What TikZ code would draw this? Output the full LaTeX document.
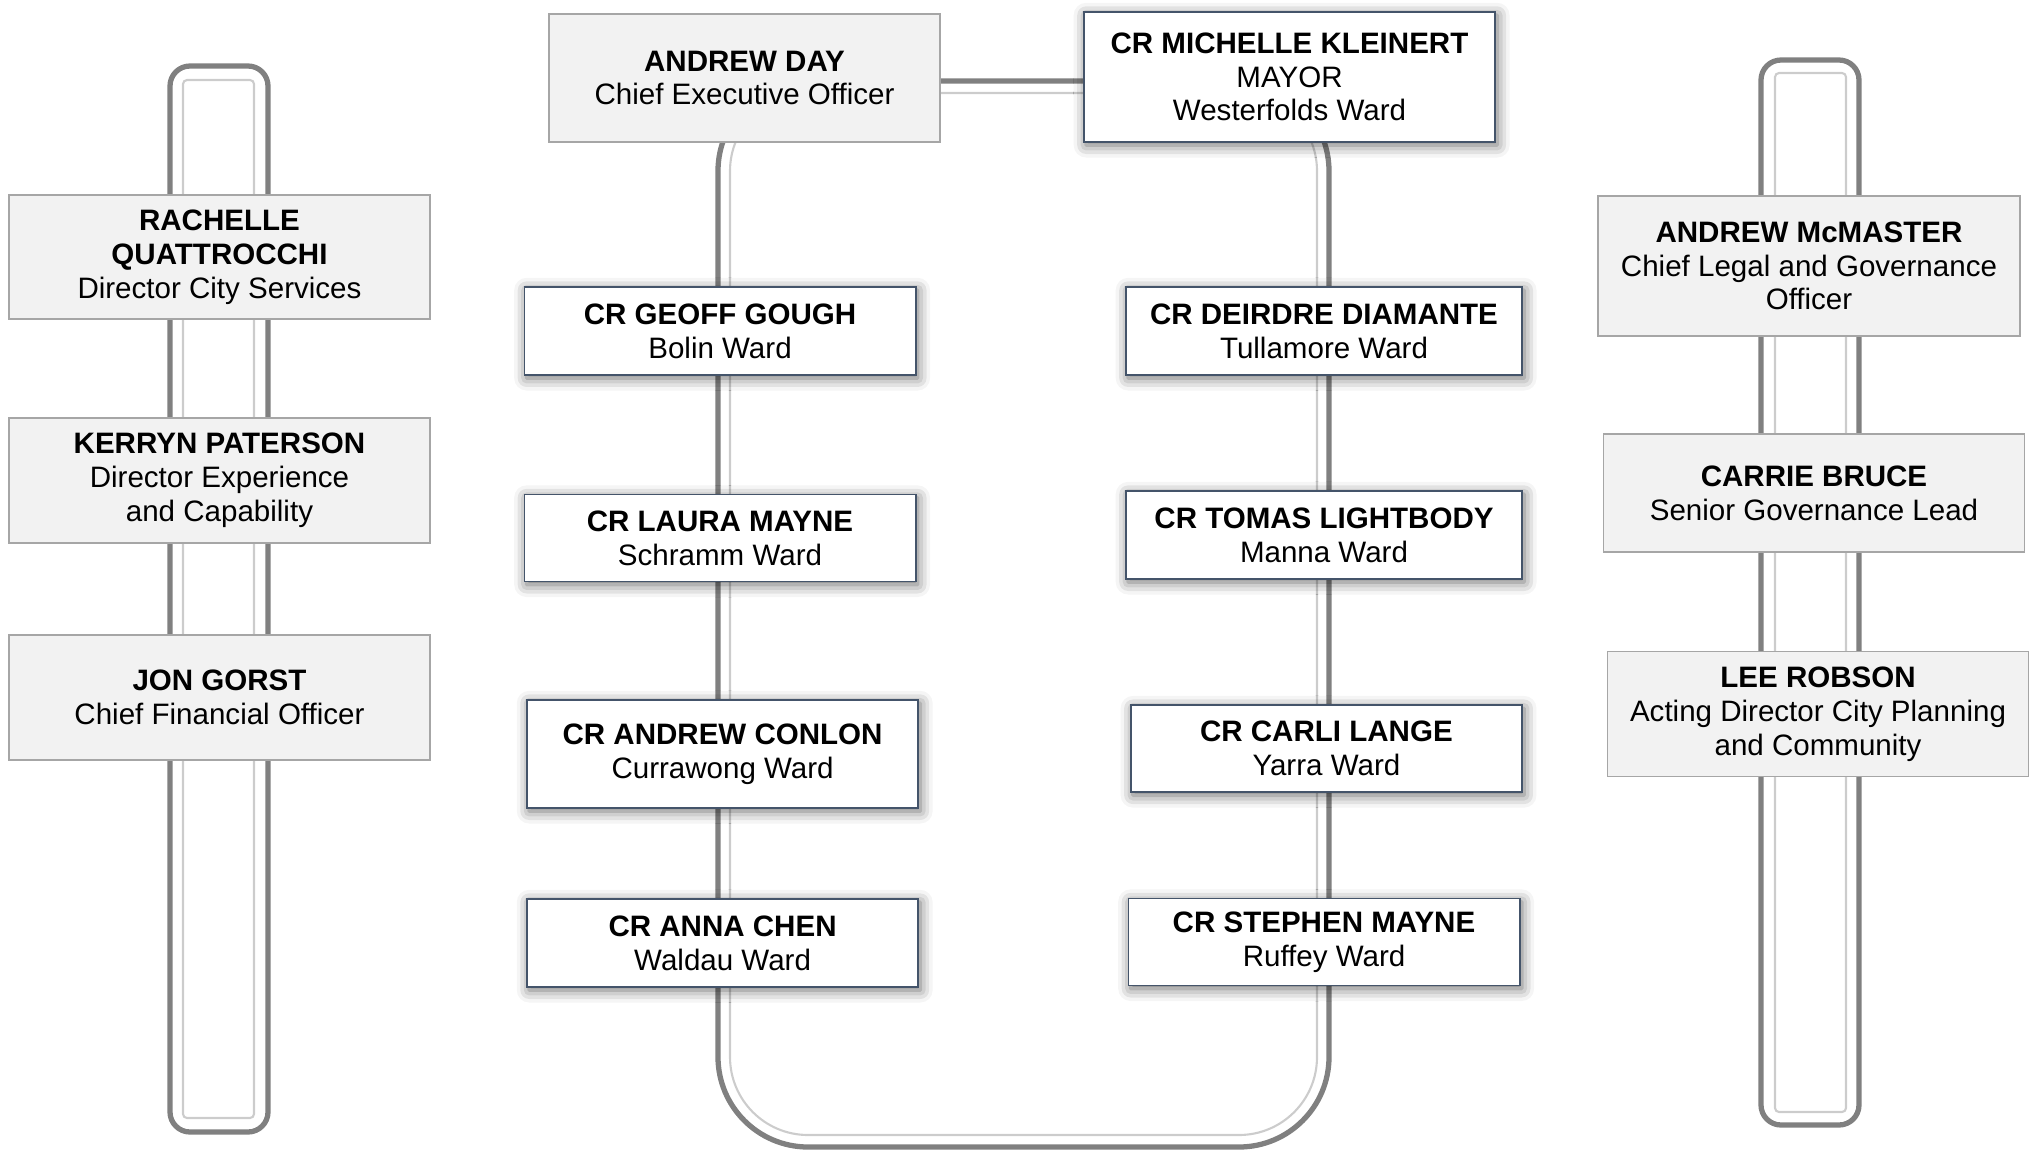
\documentclass[tikz,border=0pt]{standalone}
\usepackage{fontspec}
\setmainfont{Liberation Sans}
\usepackage{xcolor}
\usetikzlibrary{shadows.blur}
\definecolor{crline}{HTML}{44546A}
\definecolor{stafffill}{HTML}{F2F2F2}
\tikzset{
  pipe/.style={draw=black!50, line width=1.5pt},
  pipein/.style={draw=black!20, line width=0.6pt},
  staffbox/.style={draw=black!35, fill=stafffill, line width=0.4pt, align=center,
    inner sep=0pt, minimum width=4.21cm, minimum height=1.25cm},
  crbox/.style={draw=crline, fill=white, line width=0.5pt, align=center,
    inner sep=0pt, minimum width=3.91cm, minimum height=0.88cm,
    blur shadow={shadow xshift=0.6pt, shadow yshift=-0.9pt,
      shadow blur radius=3.5pt, shadow opacity=60}}
}

\begin{document}
\begin{tikzpicture}[x=0.01cm, y=-0.01cm, font=\fontsize{8.4}{9.6}\selectfont]
\useasboundingbox (0,0) rectangle (2036,1151);
% frames behind the boxes
\draw [pipe, rounded corners=0.9cm] (718,81) rectangle (1329,1147);
\draw [pipein, rounded corners=0.78cm] (730,93) rectangle (1317,1135);
\draw [pipe, rounded corners=0.2cm] (170,66) rectangle (268,1132);
\draw [pipein, rounded corners=0.04cm] (183,80) rectangle (254,1118);
\draw [pipe, rounded corners=0.2cm] (1761,60) rectangle (1859,1125);
\draw [pipein, rounded corners=0.04cm] (1775,73) rectangle (1846,1112);

\node [staffbox, minimum width=3.91cm, minimum height=1.28cm] (ceo) at (744.5,78)
  {\textbf{ANDREW DAY}\\Chief Executive Officer};
\node [crbox, minimum width=4.11cm, minimum height=1.30cm] (mayor) at (1289.5,77)
  {\textbf{CR MICHELLE KLEINERT}\\MAYOR\\Westerfolds Ward};

\node [staffbox, minimum height=1.24cm] (rachelle) at (219.5,257)
  {\textbf{RACHELLE}\\\textbf{QUATTROCCHI}\\Director City Services};
\node [staffbox] (kerryn) at (219.5,480.5)
  {\textbf{KERRYN PATERSON}\\Director Experience\\and Capability};
\node [staffbox] (jon) at (219.5,697.5)
  {\textbf{JON GORST}\\Chief Financial Officer};

\node [staffbox, minimum width=4.22cm, minimum height=1.40cm] (mcmaster) at (1809,266)
  {\textbf{ANDREW McMASTER}\\Chief Legal and Governance\\Officer};
\node [staffbox, minimum height=1.18cm] (carrie) at (1814,493)
  {\textbf{CARRIE BRUCE}\\Senior Governance Lead};
\node [staffbox] (lee) at (1818,714)
  {\textbf{LEE ROBSON}\\Acting Director City Planning\\and Community};

\node [crbox] (gough) at (720,331) {\textbf{CR GEOFF GOUGH}\\Bolin Ward};
\node [crbox, minimum height=0.87cm] (lmayne) at (720,538) {\textbf{CR LAURA MAYNE}\\Schramm Ward};
\node [crbox, minimum height=1.08cm] (conlon) at (722.6,754) {\textbf{CR ANDREW CONLON}\\Currawong Ward};
\node [crbox] (chen) at (722.6,943) {\textbf{CR ANNA CHEN}\\Waldau Ward};

\node [crbox, minimum width=3.96cm] (diamante) at (1324,331) {\textbf{CR DEIRDRE DIAMANTE}\\Tullamore Ward};
\node [crbox, minimum width=3.96cm] (lightbody) at (1324,535) {\textbf{CR TOMAS LIGHTBODY}\\Manna Ward};
\node [crbox, minimum height=0.87cm] (lange) at (1326.4,748.6) {\textbf{CR CARLI LANGE}\\Yarra Ward};
\node [crbox, minimum height=0.87cm] (smayne) at (1324,942) {\textbf{CR STEPHEN MAYNE}\\Ruffey Ward};
\end{tikzpicture}
\end{document}
